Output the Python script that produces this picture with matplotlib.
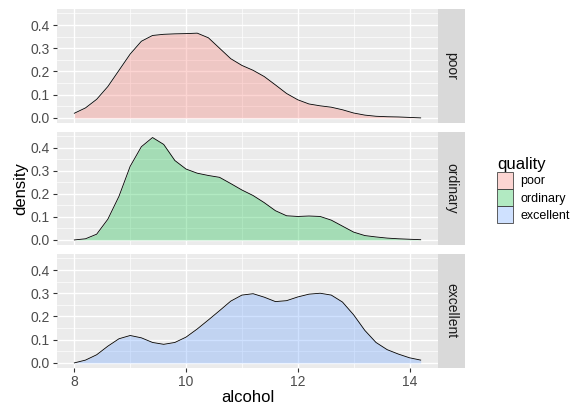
import matplotlib.pyplot as plt
from matplotlib.patches import Patch
from matplotlib.colors import to_rgba

plt.rcParams["font.family"] = ["Liberation Sans", "DejaVu Sans"]

alcohol = [8.0, 8.2, 8.4, 8.6, 8.8, 9.0, 9.2, 9.4, 9.6, 9.8, 10.0, 10.2, 10.4, 10.6, 10.8, 11.0,
           11.2, 11.4, 11.6, 11.8, 12.0, 12.2, 12.4, 12.6, 12.8, 13.0, 13.2, 13.4, 13.6, 13.8, 14.0, 14.2]
poor = [0.02, 0.043, 0.08, 0.135, 0.205, 0.275, 0.33, 0.355, 0.36, 0.362, 0.363, 0.365, 0.345, 0.3,
        0.255, 0.226, 0.205, 0.178, 0.142, 0.105, 0.078, 0.06, 0.052, 0.046, 0.035, 0.021, 0.012, 0.007,
        0.005, 0.004, 0.002, 0.0]
ordinary = [0.0, 0.005, 0.025, 0.09, 0.19, 0.32, 0.405, 0.445, 0.415, 0.345, 0.308, 0.29, 0.28, 0.272,
            0.245, 0.217, 0.193, 0.162, 0.127, 0.105, 0.102, 0.104, 0.102, 0.086, 0.06, 0.034, 0.019,
            0.013, 0.008, 0.005, 0.003, 0.001]
excellent = [0.0, 0.012, 0.035, 0.072, 0.104, 0.118, 0.108, 0.088, 0.08, 0.088, 0.111, 0.146, 0.185,
             0.225, 0.266, 0.292, 0.298, 0.283, 0.264, 0.268, 0.284, 0.296, 0.3, 0.292, 0.262, 0.207,
             0.14, 0.088, 0.057, 0.038, 0.022, 0.012]

groups = ["poor", "ordinary", "excellent"]
series = [poor, ordinary, excellent]
colors = ["#F8766D", "#00BA38", "#619CFF"]

x_ticks = [8, 10, 12, 14]
y_ticks = [0.0, 0.1, 0.2, 0.3, 0.4]

fig = plt.figure(figsize=(5.73, 4.08), dpi=100)

left, width = 57 / 573, 381 / 573
strip_w = 27 / 573
panel_rows = [(9, 123), (132, 245), (254, 368)]  # pixel top/bottom of each panel

for i, (name, vals, col) in enumerate(zip(groups, series, colors)):
    top, bot = panel_rows[i]
    b = 1 - bot / 408
    h = (bot - top) / 408
    ax = fig.add_axes([left, b, width, h])
    ax.set_facecolor("#EBEBEB")
    for s in ax.spines.values():
        s.set_visible(False)

    # grid, minor lines thinner
    for xv in [9, 11, 13]:
        ax.axvline(xv, color="white", lw=0.5, zorder=0)
    for yv in [0.05, 0.15, 0.25, 0.35, 0.45]:
        ax.axhline(yv, color="white", lw=0.5, zorder=0)
    for xv in x_ticks:
        ax.axvline(xv, color="white", lw=1.0, zorder=0)
    for yv in y_ticks:
        ax.axhline(yv, color="white", lw=1.0, zorder=0)

    ax.fill_between(alcohol, vals, 0, color=col, alpha=0.3, lw=0, zorder=2)
    ax.plot(alcohol, vals, color="black", lw=0.6, zorder=3, solid_joinstyle="round")

    ax.set_xlim(7.69, 14.51)
    ax.set_ylim(-0.022, 0.469)
    ax.set_yticks(y_ticks)
    ax.set_yticklabels([f"{v:.1f}" for v in y_ticks])
    ax.set_xticks(x_ticks)
    ax.tick_params(length=3, width=0.8, color="#333333", labelcolor="#4D4D4D",
                   labelsize=10, pad=2)
    if i < 2:
        ax.tick_params(axis="x", length=0, labelbottom=False)
    else:
        ax.set_xlabel("alcohol", fontsize=12, color="black", labelpad=1)
    if i == 1:
        ax.set_ylabel("density", fontsize=12, color="black", labelpad=2)

    # facet strip
    sax = fig.add_axes([left + width, b, strip_w, h])
    sax.set_facecolor("#D9D9D9")
    sax.set_xticks([])
    sax.set_yticks([])
    for s in sax.spines.values():
        s.set_visible(False)
    sax.text(0.5, 0.5, name, rotation=-90, ha="center", va="center",
             fontsize=10, color="#1A1A1A", transform=sax.transAxes)

handles = [Patch(facecolor=to_rgba(c, 0.3), edgecolor="#444444", lw=0.6) for c in colors]
fig.legend(handles, groups, title="quality", loc="center left",
           bbox_to_anchor=(488 / 573, 1 - 190 / 408), frameon=False,
           fontsize=9, title_fontsize=12, handlelength=1.3, handleheight=1.75,
           handletextpad=0.6, labelspacing=0.0, alignment="left", borderpad=0.2)

fig.savefig("out.png", dpi=100)
